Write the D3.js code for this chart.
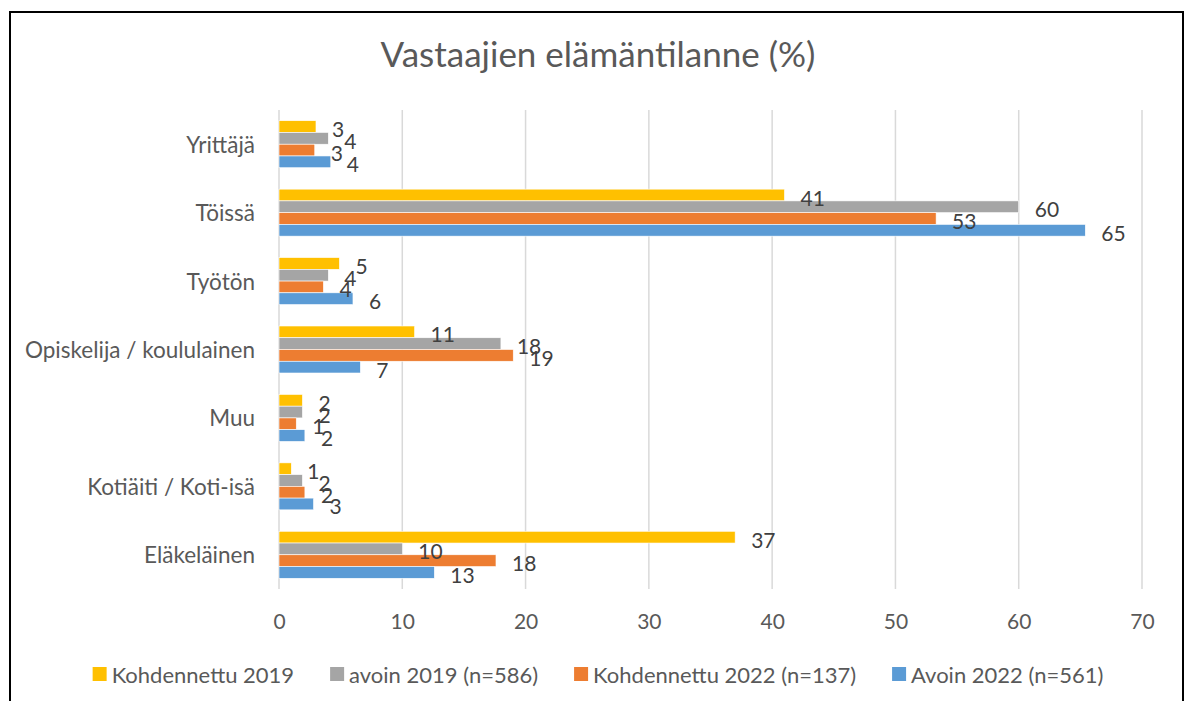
<!DOCTYPE html>
<html>
<head>
<meta charset="utf-8">
<script src="https://cdn.jsdelivr.net/npm/d3@7"></script>
<style>
  body { margin: 0; background: #fff; }
  text { font-family: Lato, "Open Sans", sans-serif; }
</style>
</head>
<body>
<script>
// categories (top to bottom) and series
var categories = ["Yrittäjä", "Töissä", "Työtön", "Opiskelija / koululainen", "Muu", "Kotiäiti / Koti-isä", "Eläkeläinen"];
var seriesNames = ["Kohdennettu 2019", "avoin 2019 (n=586)", "Kohdennettu 2022 (n=137)", "Avoin 2022 (n=561)"];
var seriesColors = ["#FFC000", "#A5A5A5", "#ED7D31", "#5B9BD5"];

var kohdennettu2019 = [3.0, 41.0, 4.9, 11.0, 1.9, 1.0, 37.0];
var avoin2019 = [4.0, 60.0, 4.0, 18.0, 1.9, 1.9, 10.0];
var kohdennettu2022 = [2.9, 53.3, 3.6, 19.0, 1.4, 2.1, 17.6];
var avoin2022 = [4.2, 65.4, 6.0, 6.6, 2.1, 2.8, 12.6];

var xTicks = [0, 10, 20, 30, 40, 50, 60, 70];

var seriesValues = [kohdennettu2019, avoin2019, kohdennettu2022, avoin2022];

var W = 1192, H = 701;
var plot = {left: 279, right: 1142, top: 110, bottom: 589};

var svg = d3.select("body").append("svg")
    .attr("width", W)
    .attr("height", H);

// outer chart border
svg.append("rect")
    .attr("x", 10)
    .attr("y", 12)
    .attr("width", 1173)
    .attr("height", 720)
    .attr("fill", "none")
    .attr("stroke", "#000")
    .attr("stroke-width", 2);

var x = d3.scaleLinear()
    .domain([0, 70])
    .range([plot.left, plot.right]);

var y = d3.scaleBand()
    .domain(categories)
    .range([plot.top, plot.bottom]);

var groupH = 47;
var ySub = d3.scaleBand()
    .domain(d3.range(seriesNames.length))
    .range([(y.bandwidth() - groupH) / 2, (y.bandwidth() + groupH) / 2]);

// title
svg.append("text")
    .attr("x", 598)
    .attr("y", 67)
    .attr("text-anchor", "middle")
    .attr("font-size", "35px")
    .attr("fill", "#595959")
    .text("Vastaajien elämäntilanne (%)");

// gridlines
svg.append("g")
    .selectAll("line")
    .data(xTicks)
    .join("line")
    .attr("x1", d => x(d))
    .attr("x2", d => x(d))
    .attr("y1", plot.top)
    .attr("y2", plot.bottom)
    .attr("stroke", "#d9d9d9")
    .attr("stroke-width", 1.5);

// x axis labels
var xAxis = d3.axisBottom(x)
    .tickValues(xTicks)
    .tickSize(0)
    .tickPadding(0);

var gx = svg.append("g")
    .attr("transform", "translate(0," + 620 + ")")
    .call(xAxis);
gx.select(".domain").remove();
gx.selectAll("text")
    .attr("dy", null)
    .attr("y", 0)
    .attr("dominant-baseline", "central")
    .attr("font-family", "Lato, 'Open Sans', sans-serif")
    .attr("font-size", "21px")
    .attr("fill", "#595959");

// y axis labels
var yAxis = d3.axisLeft(y)
    .tickSize(0)
    .tickPadding(0);

var gy = svg.append("g")
    .attr("transform", "translate(" + 255 + ",0)")
    .call(yAxis);
gy.select(".domain").remove();
gy.selectAll("text")
    .attr("dy", null)
    .attr("dominant-baseline", "central")
    .attr("font-family", "Lato, 'Open Sans', sans-serif")
    .attr("font-size", "22.5px")
    .attr("fill", "#595959");

// bars
var rows = [];
categories.forEach((c, i) => {
    seriesValues.forEach((vals, s) => {
        rows.push({cat: c, s: s, v: vals[i]});
    });
});

svg.append("g")
    .selectAll("rect")
    .data(rows)
    .join("rect")
    .attr("x", x(0))
    .attr("y", d => y(d.cat) + ySub(d.s))
    .attr("width", d => x(d.v) - x(0))
    .attr("height", ySub.bandwidth())
    .attr("fill", d => seriesColors[d.s])
    .attr("stroke", "#fff")
    .attr("stroke-width", 0.6);

// data labels
svg.append("g")
    .selectAll("text")
    .data(rows)
    .join("text")
    .attr("x", d => x(d.v) + 16)
    .attr("y", d => y(d.cat) + ySub(d.s) + ySub.bandwidth() / 2 + 2)
    .attr("dominant-baseline", "central")
    .attr("font-size", "21px")
    .attr("fill", "#404040")
    .text(d => Math.round(d.v));

// legend
var legend = svg.append("g");
var cursor = 0;
seriesNames.forEach((name, i) => {
    var item = legend.append("g").attr("transform", "translate(" + cursor + ",0)");
    item.append("rect")
        .attr("x", 0)
        .attr("y", -7)
        .attr("width", 14)
        .attr("height", 14)
        .attr("fill", seriesColors[i]);
    var t = item.append("text")
        .attr("x", 19)
        .attr("y", 0)
        .attr("dominant-baseline", "central")
        .attr("font-size", "22px")
        .attr("fill", "#595959")
        .text(name);
    cursor += 19 + t.node().getComputedTextLength() + 36;
});
var legendW = cursor - 36;
legend.attr("transform", "translate(" + (598 - legendW / 2) + "," + 674 + ")");
</script>
</body>
</html>
